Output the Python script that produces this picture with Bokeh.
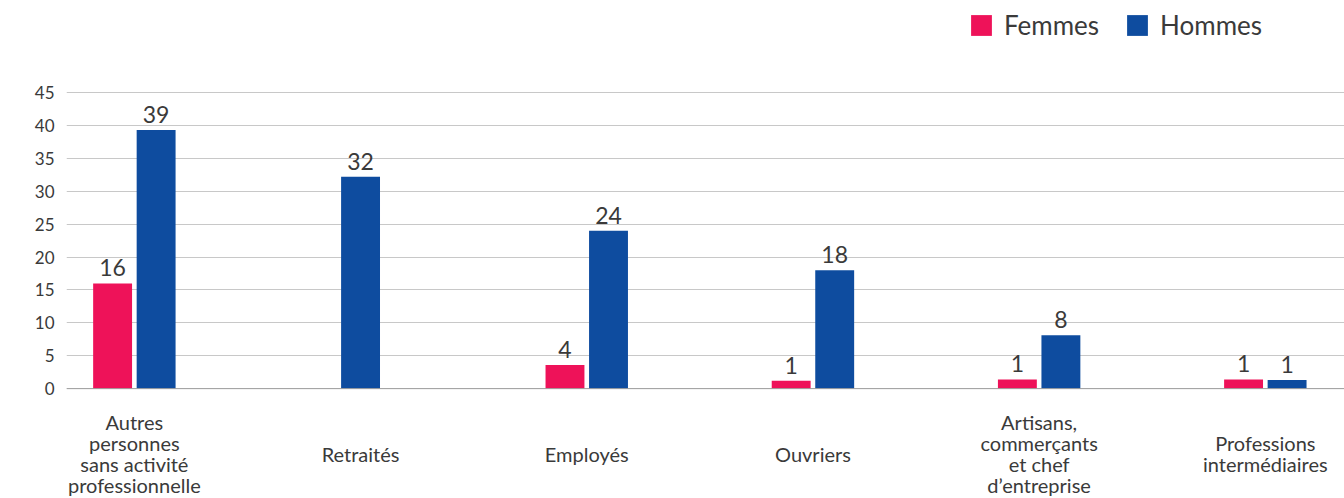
import numpy as np
from bokeh.plotting import figure
from bokeh.models import ColumnDataSource, Range1d, FixedTicker, Legend, LegendItem, Span
from bokeh.core.properties import value
from bokeh.embed import file_html
from bokeh.resources import INLINE

categories = [
    "Autres\npersonnes\nsans activité\nprofessionnelle",
    "Retraités",
    "Employés",
    "Ouvriers",
    "Artisans,\ncommerçants\net chef\nd’entreprise",
    "Professions\nintermédiaires",
]
femmes = [16.0, None, 3.6, 1.2, 1.4, 1.4]
hommes = [39.3, 32.2, 24.0, 18.0, 8.1, 1.3]
y_ticks = [0, 5, 10, 15, 20, 25, 30, 35, 40, 45]
series_names = ["Femmes", "Hommes"]

PINK = "#EE1259"
BLUE = "#0E4C9F"
TEXT = "#3a3a3a"
FONT = "Lato"

idx = np.arange(len(categories))
f = np.array([np.nan if v is None else v for v in femmes], dtype=float)
h = np.array(hommes, dtype=float)
has_f = ~np.isnan(f)
off = 0.0962
bw = 0.172

src_f = ColumnDataSource(dict(
    x=idx[has_f] - off,
    top=f[has_f],
    label=[f"{v:.0f}" for v in f[has_f]],
))
src_h = ColumnDataSource(dict(
    x=np.where(has_f, idx + off, idx),
    top=h,
    label=[f"{v:.0f}" for v in h],
))
src_c = ColumnDataSource(dict(x=idx, y=np.zeros(len(idx)), text=categories))

# the frame spans the whole height so that category labels and legend can sit in it
p = figure(width=1344, height=498, output_backend="svg", toolbar_location=None,
           x_range=Range1d(-0.30, 5.35), y_range=Range1d(-16.7, 59.0),
           min_border_left=66, min_border_right=0, min_border_top=0, min_border_bottom=0)
p.outline_line_color = None
p.background_fill_color = "white"
p.xaxis.visible = False

rf = p.vbar(x="x", top="top", bottom=0, width=bw, source=src_f, fill_color=PINK, line_color=None)
rh = p.vbar(x="x", top="top", bottom=0, width=bw, source=src_h, fill_color=BLUE, line_color=None)

for src in (src_f, src_h):
    p.text(x="x", y="top", text="label", source=src, text_align="center", text_baseline="bottom",
           y_offset=-7, text_font=value(FONT), text_font_size="23px", text_color=TEXT)

p.text(x="x", y="y", text="text", source=src_c, text_align="center", text_baseline="middle",
       y_offset=65, text_font=value(FONT), text_font_size="20px", text_color=TEXT,
       text_line_height=0.875)

p.xgrid.grid_line_color = None
p.ygrid.grid_line_color = "#c8c8c8"
p.ygrid.ticker = FixedTicker(ticks=y_ticks)
p.add_layout(Span(location=0, dimension="width", line_color="#a0a0a0", line_width=1))

ya = p.yaxis[0]
ya.ticker = FixedTicker(ticks=y_ticks)
ya.axis_line_color = None
ya.major_tick_line_color = None
ya.minor_tick_line_color = None
ya.major_tick_out = 0
ya.major_tick_in = 0
ya.major_label_standoff = 12
ya.major_label_text_font = FONT
ya.major_label_text_font_size = "17px"
ya.major_label_text_color = TEXT

legend = Legend(items=[LegendItem(label=series_names[0], renderers=[rf]),
                       LegendItem(label=series_names[1], renderers=[rh])],
                orientation="horizontal", location=(902, 457),
                glyph_width=26, glyph_height=26, label_standoff=10, spacing=25,
                padding=0, margin=0, border_line_color=None, background_fill_alpha=0,
                label_text_font=FONT, label_text_font_size="26px", label_text_color=TEXT)
p.add_layout(legend)

open("out.html", "w").write(file_html(p, INLINE))
